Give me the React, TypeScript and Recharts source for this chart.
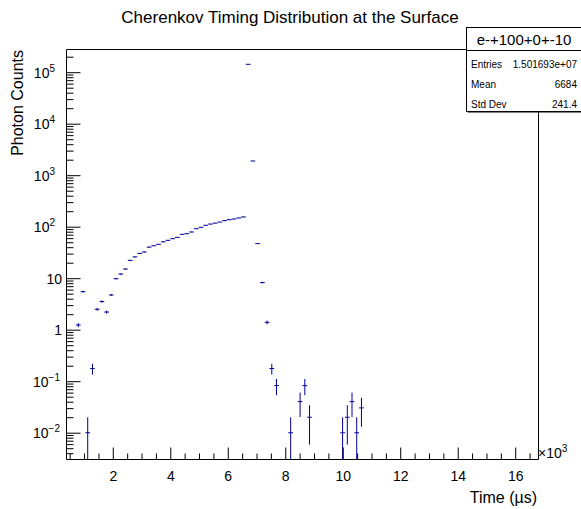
import React from 'react';
import { ScatterChart, Scatter, XAxis, YAxis, ErrorBar, ReferenceLine } from 'recharts';

// Bin centres (time, ns) of the non-empty bins
const binTimes = [
  782, 946, 1110, 1275, 1439, 1603, 1767, 1931, 2096, 2260,
  2424, 2588, 2752, 2917, 3081, 3245, 3409, 3573, 3738, 3902,
  4066, 4230, 4394, 4559, 4723, 4887, 5051, 5215, 5380, 5544,
  5708, 5872, 6036, 6201, 6365, 6529, 6693, 6857, 7022, 7186,
  7350, 7514, 7678, 8171, 8499, 8663, 8827, 9977, 10141, 10305,
  10469, 10634,
];

// Bin contents (photon counts)
const photonCounts = [
  1.26, 5.6, 0.0102, 0.18, 2.55, 3.6, 2.25, 4.83, 10.0, 12.3,
  15.4, 22.7, 26.5, 31, 33, 41, 43.6, 46.5, 52, 55.7,
  59.8, 63.5, 72.8, 74.8, 80.7, 93.5, 99.6, 109, 115, 120,
  126, 134, 140, 144, 151, 158, 145600, 1930, 48, 8.4,
  1.42, 0.18, 0.084, 0.0102, 0.041, 0.084, 0.0204, 0.0102, 0.0204, 0.041,
  0.0102, 0.031,
];

// Bin errors
const countErrors = [
  0.113, 0.239, 0.0102, 0.0428, 0.161, 0.192, 0.151, 0.222, 0.319, 0.354,
  0.396, 0.481, 0.52, 0.562, 0.58, 0.647, 0.667, 0.689, 0.728, 0.754,
  0.781, 0.805, 0.862, 0.873, 0.907, 0.977, 1.008, 1.054, 1.083, 1.106,
  1.134, 1.169, 1.195, 1.212, 1.241, 1.27, 38.5, 4.44, 0.7, 0.293,
  0.12, 0.0428, 0.0293, 0.0102, 0.0204, 0.0293, 0.0144, 0.0102, 0.0144, 0.0204,
  0.0102, 0.0177,
];

const binHalfWidth = 82.1;

const xMajorTicks = [2000, 4000, 6000, 8000, 10000, 12000, 14000, 16000];
const xTickLabels = ['2', '4', '6', '8', '10', '12', '14', '16'];
const xAllTicks = [
  500, 1000, 1500, 2000, 2500, 3000, 3500, 4000, 4500, 5000, 5500, 6000, 6500,
  7000, 7500, 8000, 8500, 9000, 9500, 10000, 10500, 11000, 11500, 12000, 12500,
  13000, 13500, 14000, 14500, 15000, 15500, 16000, 16500,
];

const yMajorTicks = [0.01, 0.1, 1, 10, 100, 1000, 10000, 100000];
const yTickBases = ['10', '10', '1', '10', '10', '10', '10', '10'];
const yTickExps = ['\u22122', '\u22121', '', '', '2', '3', '4', '5'];
const yMinorTicks = [
  0.004, 0.005, 0.006, 0.007, 0.008, 0.009,
  0.02, 0.03, 0.04, 0.05, 0.06, 0.07, 0.08, 0.09,
  0.2, 0.3, 0.4, 0.5, 0.6, 0.7, 0.8, 0.9,
  2, 3, 4, 5, 6, 7, 8, 9,
  20, 30, 40, 50, 60, 70, 80, 90,
  200, 300, 400, 500, 600, 700, 800, 900,
  2000, 3000, 4000, 5000, 6000, 7000, 8000, 9000,
  20000, 30000, 40000, 50000, 60000, 70000, 80000, 90000,
  200000,
];

const X_MIN = 372;
const X_MAX = 16793;
const Y_MIN = 0.003085;
const Y_MAX = 282200;

const statLabels = ['Entries', 'Mean', 'Std Dev'];
const statValues = ['1.501693e+07', '6684', '241.4'];

const MARK = '#000099';
const FONT = '"Liberation Sans", Arial, Helvetica, sans-serif';

const rows = binTimes.map((t, i) => ({
  t,
  c: photonCounts[i],
  ex: binHalfWidth,
  ey: [Math.min(countErrors[i], photonCounts[i] - Y_MIN * 1.0005), countErrors[i]],
}));

const allYTicks = [...yMinorTicks, ...yMajorTicks].sort((a, b) => a - b);

const YTick = (props: any) => {
  const { x, y, payload } = props;
  const v = payload.value;
  const idx = yMajorTicks.indexOf(v);
  const major = idx >= 0;
  const exp = major ? yTickExps[idx] : '';
  return (
    <g>
      <line x1={x} x2={x + (major ? 14 : 7)} y1={y} y2={y} stroke="#000" strokeWidth={1} />
      {major && (
        exp ? (
          <text x={exp.startsWith('\u2212') ? 60 : 55} y={y + 5} textAnchor="end" fontSize={14} fill="#000" fontFamily={FONT}>
            {yTickBases[idx]}
            <tspan dy={-6} fontSize={10}>{exp}</tspan>
          </text>
        ) : (
          <text x={62} y={y + 5} textAnchor="end" fontSize={14} fill="#000" fontFamily={FONT}>
            {yTickBases[idx]}
          </text>
        )
      )}
    </g>
  );
};

const XTick = (props: any) => {
  const { x, payload } = props;
  const v = payload.value;
  const idx = xMajorTicks.indexOf(v);
  const major = idx >= 0;
  return (
    <g>
      <line x1={x} x2={x} y1={459.5} y2={459.5 - (major ? 12 : 6)} stroke="#000" strokeWidth={1} />
      {major && (
        <text x={x} y={481} textAnchor="middle" fontSize={14} fill="#000" fontFamily={FONT}>
          {xTickLabels[idx]}
        </text>
      )}
    </g>
  );
};

const NoMarker = () => <g />;

export default function App() {
  return (
    <div style={{ position: 'absolute', left: 0, top: 0, width: 581, height: 509, background: '#fff', fontFamily: FONT }}>
      <ScatterChart
        width={581}
        height={509}
        margin={{ top: 49.5, right: 42.5, bottom: 19.5, left: 0 }}
      >
        <XAxis
          type="number"
          dataKey="t"
          domain={[X_MIN, X_MAX]}
          allowDataOverflow
          ticks={xAllTicks}
          interval={0}
          tickSize={0}
          tickMargin={0}
          tickLine={false}
          tick={<XTick />}
          axisLine={{ stroke: '#000', strokeWidth: 1 }}
          height={30}
        />
        <YAxis
          type="number"
          dataKey="c"
          scale="log"
          domain={[Y_MIN, Y_MAX]}
          allowDataOverflow
          ticks={allYTicks}
          interval={0}
          tickSize={0}
          tickMargin={0}
          tickLine={false}
          tick={<YTick />}
          axisLine={{ stroke: '#000', strokeWidth: 1 }}
          width={66.5}
        />
        <ReferenceLine y={Y_MAX} stroke="#000" strokeWidth={1} />
        <ReferenceLine x={X_MAX} stroke="#000" strokeWidth={1} />
        <Scatter data={rows} shape={NoMarker} isAnimationActive={false}>
          <ErrorBar dataKey="ex" direction="x" width={0} stroke={MARK} strokeWidth={1} isAnimationActive={false} />
          <ErrorBar dataKey="ey" direction="y" width={0} stroke={MARK} strokeWidth={1} isAnimationActive={false} />
        </Scatter>
      </ScatterChart>
      <svg
        width={581}
        height={509}
        style={{ position: 'absolute', left: 0, top: 0, pointerEvents: 'none' }}
      >
        <text x={290} y={23} textAnchor="middle" fontSize={17} fill="#000" fontFamily={FONT}>
          Cherenkov Timing Distribution at the Surface
        </text>
        <text transform="translate(23,50) rotate(-90)" textAnchor="end" fontSize={16} fill="#000" fontFamily={FONT}>
          Photon Counts
        </text>
        <text x={537} y={503} textAnchor="end" fontSize={16} fill="#000" fontFamily={FONT}>
          Time (µs)
        </text>
        <text x={538} y={458} fontSize={14} fill="#000" fontFamily={FONT}>
          ×10<tspan dy={-6} fontSize={10}>3</tspan>
        </text>
        <rect x={467.5} y={28.5} width={116} height={84} fill="#000" />
        <rect x={466.5} y={27.5} width={116} height={84} fill="#fff" stroke="#000" strokeWidth={1} />
        <line x1={466.5} x2={581} y1={50.5} y2={50.5} stroke="#000" strokeWidth={1} />
        <text x={524} y={45} textAnchor="middle" fontSize={15} fill="#000" fontFamily={FONT}>
          e-+100+0+-10
        </text>
        {statLabels.map((lab, i) => (
          <text key={lab} x={471} y={68 + i * 20} fontSize={10} fill="#000" fontFamily={FONT}>
            {lab}
          </text>
        ))}
        {statValues.map((val, i) => (
          <text key={val} x={577} y={68 + i * 20} textAnchor="end" fontSize={10} fill="#000" fontFamily={FONT}>
            {val}
          </text>
        ))}
      </svg>
    </div>
  );
}
